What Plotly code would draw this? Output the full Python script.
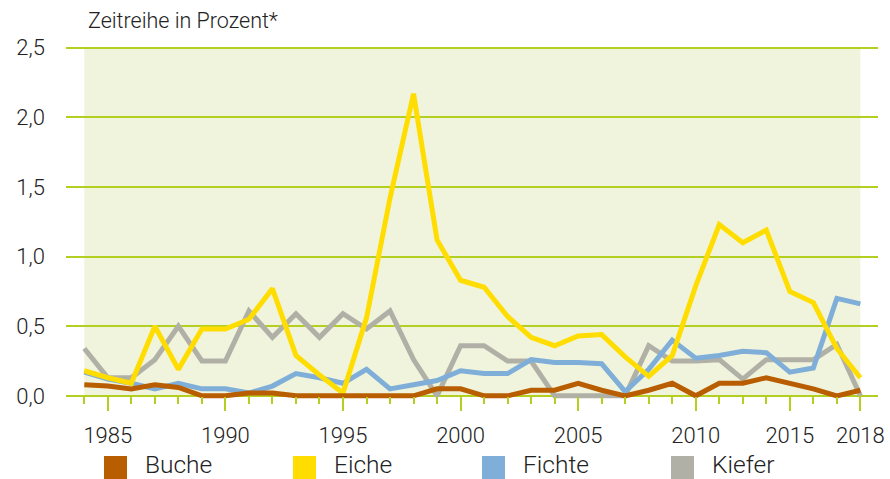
import plotly.graph_objects as go

# ---- data ----
x_index = list(range(34))
tick_index = [1, 6, 11, 16, 21, 26, 30, 33]
tick_labels = ["1985", "1990", "1995", "2000", "2005", "2010", "2015", "2018"]

buche = [0.08, 0.07, 0.05, 0.08, 0.06, 0.0, 0.0, 0.02, 0.02, 0.0, 0.0, 0.0, 0.0, 0.0, 0.0,
         0.05, 0.05, 0.0, 0.0, 0.04, 0.04, 0.09, 0.04, 0.0, 0.04, 0.09, 0.0, 0.09, 0.09,
         0.13, 0.09, 0.05, 0.0, 0.04]
eiche = [0.18, 0.13, 0.09, 0.50, 0.19, 0.48, 0.48, 0.55, 0.77, 0.29, 0.15, 0.02, 0.56, 1.42,
         2.17, 1.12, 0.83, 0.78, 0.57, 0.42, 0.36, 0.43, 0.44, 0.28, 0.14, 0.29, 0.79, 1.23,
         1.10, 1.19, 0.75, 0.67, 0.34, 0.13]
fichte = [0.17, 0.12, 0.09, 0.05, 0.09, 0.05, 0.05, 0.02, 0.07, 0.16, 0.13, 0.09, 0.19, 0.05,
          0.08, 0.11, 0.18, 0.16, 0.16, 0.26, 0.24, 0.24, 0.23, 0.03, 0.19, 0.40, 0.27, 0.29,
          0.32, 0.31, 0.17, 0.20, 0.70, 0.66]
kiefer = [0.34, 0.13, 0.13, 0.26, 0.50, 0.25, 0.25, 0.61, 0.42, 0.59, 0.42, 0.59, 0.48, 0.61,
          0.26, 0.0, 0.36, 0.36, 0.25, 0.25, 0.0, 0.0, 0.0, 0.0, 0.36, 0.25, 0.25, 0.26, 0.12,
          0.26, 0.26, 0.26, 0.37, 0.0]
y_ticks = [0, 0.5, 1.0, 1.5, 2.0, 2.5]

series_names = ["Buche", "Eiche", "Fichte", "Kiefer"]
series_values = [buche, eiche, fichte, kiefer]
series_colors = ["#b95e00", "#ffdd00", "#7fafd8", "#b1b0a7"]

# ---- style ----
FONT = "Roboto"
TEXT = "#222222"
GRID = "#b5cf21"
BG = "#f0f4dc"
W, H = 890, 479
ML, MR, MT, MB = 66, 12, 45, 79
PW, PH = W - ML - MR, H - MT - MB
Y_RANGE = [-0.03, 2.52]

fig = go.Figure()

draw_order = [3, 2, 1, 0]
for k in draw_order:
    fig.add_trace(go.Scatter(
        x=x_index, y=series_values[k], mode="lines", name=series_names[k],
        line=dict(color=series_colors[k], width=5),
        hoverinfo="skip",
    ))

# background panel spanning the data extent
fig.add_shape(type="rect", xref="x", yref="y",
              x0=x_index[0], x1=x_index[-1], y0=y_ticks[0], y1=y_ticks[-1],
              fillcolor=BG, line=dict(width=0), layer="below")


def px_to_paper_x(px):
    return (px - ML) / PW


def px_to_paper_y(py):
    return (H - MB - py) / PH


# manual legend
for i, (name, color) in enumerate(zip(series_names, series_colors)):
    left = 104 + 189 * i
    fig.add_shape(type="rect", xref="paper", yref="paper",
                  x0=px_to_paper_x(left), x1=px_to_paper_x(left + 23),
                  y0=px_to_paper_y(456), y1=px_to_paper_y(479),
                  fillcolor=color, line=dict(width=0))
    fig.add_annotation(xref="paper", yref="paper",
                       x=px_to_paper_x(left + 40), y=px_to_paper_y(464),
                       text=name, showarrow=False, xanchor="left", yanchor="middle",
                       borderpad=0,
                       font=dict(family=FONT, size=24.5, color=TEXT, weight=300))

fig.update_layout(
    width=W, height=H,
    margin=dict(l=ML, r=MR, t=MT, b=MB, pad=0, autoexpand=False),
    plot_bgcolor="white", paper_bgcolor="white",
    showlegend=False,
    separators=",.",
    font=dict(family=FONT, size=22, color=TEXT, weight=300),
    title=dict(text="Zeitreihe in Prozent*", x=88 / W, xanchor="left",
               y=1 - 20 / H, yanchor="middle", xref="container", yref="container",
               font=dict(family=FONT, size=21.5, color=TEXT, weight=300)),
    xaxis=dict(
        range=[-0.778, 33.75], tickmode="array", tickvals=tick_index, ticktext=tick_labels,
        ticks="outside", ticklen=14, tickwidth=2, tickcolor=GRID,
        showgrid=False, zeroline=False, showline=False, automargin=False,
        anchor="free", position=(0 - Y_RANGE[0]) / (Y_RANGE[1] - Y_RANGE[0]),
        ticklabelstandoff=6,
        minor=dict(ticks="outside", ticklen=7, tickwidth=2, tickcolor=GRID,
                   tickmode="linear", tick0=0, dtick=1, showgrid=False),
        tickfont=dict(family=FONT, size=22, color=TEXT, weight=300),
        fixedrange=True,
    ),
    yaxis=dict(
        range=Y_RANGE, tickmode="array", tickvals=y_ticks, tickformat=".1f",
        showgrid=True, gridcolor=GRID, gridwidth=2, zeroline=False, showline=False,
        automargin=False,
        ticks="", ticklabelstandoff=20,
        tickfont=dict(family=FONT, size=22, color=TEXT, weight=300),
        fixedrange=True,
    ),
)

fig.write_html("out.html", post_script="document.body.style.margin='0';",
               config={"displayModeBar": False})
